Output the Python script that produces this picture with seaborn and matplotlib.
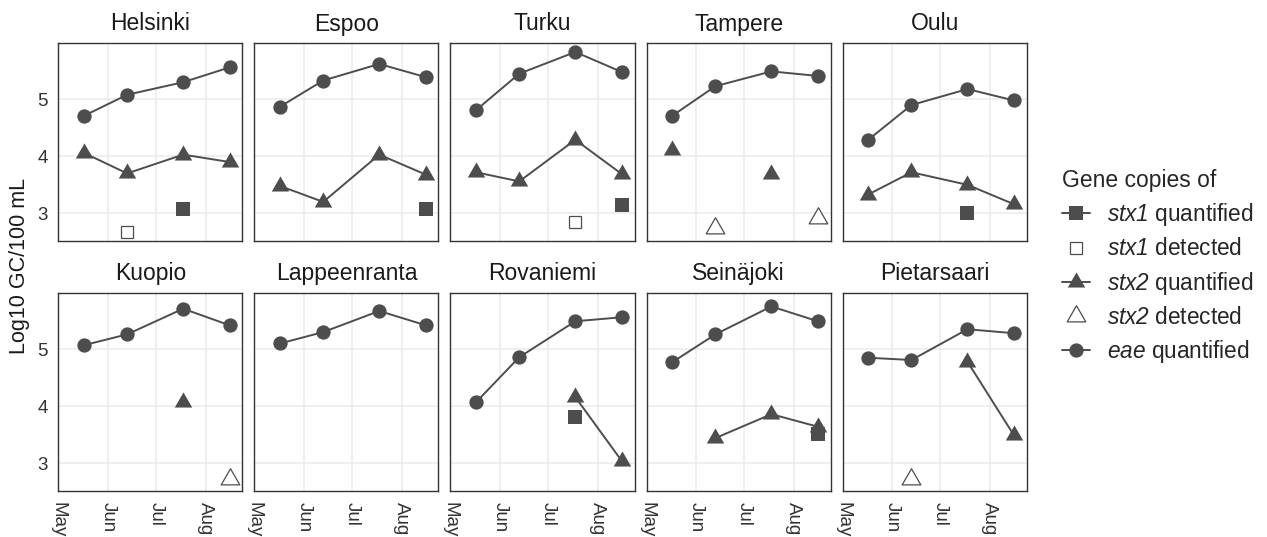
import numpy as np
import pandas as pd
import matplotlib
matplotlib.use("Agg")
import matplotlib.pyplot as plt
import matplotlib.dates as mdates
from matplotlib.lines import Line2D
from matplotlib.path import Path
import seaborn as sns

# --- data (log10 gene copies / 100 mL) ---
nan = np.nan

cities = ["Helsinki", "Espoo", "Turku", "Tampere", "Oulu",
          "Kuopio", "Lappeenranta", "Rovaniemi", "Seinäjoki", "Pietarsaari"]
sample_dates = ["2021-05-17", "2021-06-13", "2021-07-18", "2021-08-16"]

eae_quant = [
    [4.71, 5.08, 5.30, 5.56],
    [4.87, 5.33, 5.62, 5.39],
    [4.81, 5.45, 5.83, 5.48],
    [4.71, 5.23, 5.49, 5.41],
    [4.29, 4.90, 5.18, 4.98],
    [5.07, 5.26, 5.71, 5.42],
    [5.10, 5.30, 5.67, 5.42],
    [4.07, 4.86, 5.49, 5.56],
    [4.77, 5.26, 5.75, 5.49],
    [4.85, 4.81, 5.35, 5.28],
]
stx2_quant = [
    [4.06, 3.70, 4.03, 3.90],
    [3.48, 3.20, 4.03, 3.68],
    [3.72, 3.56, 4.29, 3.69],
    [4.11, nan, 3.69, nan],
    [3.33, 3.72, 3.50, 3.16],
    [nan, nan, 4.08, nan],
    [nan, nan, nan, nan],
    [nan, nan, 4.16, 3.04],
    [nan, 3.44, 3.86, 3.64],
    [nan, nan, 4.78, 3.49],
]
stx1_quant = [
    [nan, nan, 3.07, nan],
    [nan, nan, nan, 3.07],
    [nan, nan, nan, 3.15],
    [nan, nan, nan, nan],
    [nan, nan, 3.01, nan],
    [nan, nan, nan, nan],
    [nan, nan, nan, nan],
    [nan, nan, 3.81, nan],
    [nan, nan, nan, 3.52],
    [nan, nan, nan, nan],
]
stx1_det = [
    [nan, 2.67, nan, nan],
    [nan, nan, nan, nan],
    [nan, nan, 2.84, nan],
    [nan, nan, nan, nan],
    [nan, nan, nan, nan],
    [nan, nan, nan, nan],
    [nan, nan, nan, nan],
    [nan, nan, nan, nan],
    [nan, nan, nan, nan],
    [nan, nan, nan, nan],
]
stx2_det = [
    [nan, nan, nan, nan],
    [nan, nan, nan, nan],
    [nan, nan, nan, nan],
    [nan, 2.75, nan, 2.91],
    [nan, nan, nan, nan],
    [nan, nan, nan, 2.72],
    [nan, nan, nan, nan],
    [nan, nan, nan, nan],
    [nan, nan, nan, nan],
    [nan, 2.72, nan, nan],
]

# gene names go through mathtext, which is set to italic below
legend_labels = [r"$stx1$ quantified", r"$stx1$ detected",
                 r"$stx2$ quantified", r"$stx2$ detected",
                 r"$eae$ quantified"]

# --- long format ---
series = [
    ("stx1", "quantified", stx1_quant),
    ("stx1", "detected", stx1_det),
    ("stx2", "quantified", stx2_quant),
    ("stx2", "detected", stx2_det),
    ("eae", "quantified", eae_quant),
]
rows = []
for gene, status, table in series:
    for city, vals in zip(cities, table):
        for d, v in zip(sample_dates, vals):
            rows.append(dict(city=city, date=pd.Timestamp(d), gene=gene,
                             status=status, value=v))
df = pd.DataFrame(rows)

# --- style ---
sns.set_style("white")
plt.rcParams["font.family"] = ["Liberation Sans", "DejaVu Sans"]
plt.rcParams["mathtext.fontset"] = "custom"
plt.rcParams["mathtext.rm"] = "Liberation Sans:italic"
plt.rcParams["mathtext.it"] = "Liberation Sans:italic"

DARK = "#4d4d4d"
# triangle with its centroid on the data point (like R's pch 17 / 2)
TRI = Path([(0, 1), (-0.866, -0.5), (0.866, -0.5), (0, 1)], closed=True)
styles = {
    ("stx1", "quantified"): dict(marker="s", ms=9.6, mfc=DARK, mec=DARK, mew=0, ls="-"),
    ("stx1", "detected"): dict(marker="s", ms=9.2, mfc="white", mec=DARK, mew=0.9, ls="none"),
    ("stx2", "quantified"): dict(marker=TRI, ms=14.5, mfc=DARK, mec=DARK, mew=0, ls="-"),
    ("stx2", "detected"): dict(marker=TRI, ms=15.5, mfc="white", mec=DARK, mew=0.9, ls="none"),
    ("eae", "quantified"): dict(marker="o", ms=10.3, mfc=DARK, mec=DARK, mew=0, ls="-"),
}


def draw_city(data, **kws):
    ax = plt.gca()
    for (gene, status), st in styles.items():
        sub = data[(data.gene == gene) & (data.status == status)].sort_values("date")
        ax.plot(sub["date"].to_numpy(), sub["value"].to_numpy(),
                color=DARK, lw=1.4, **st)


g = sns.FacetGrid(df, col="city", col_wrap=5, col_order=cities,
                  sharex=True, sharey=True, height=2.5, aspect=1,
                  dropna=False, despine=False)
g.map_dataframe(draw_city)
g.set_titles("{col_name}", size=16.5, pad=9, color="#1a1a1a")
g.set_axis_labels("", "")

vmin, vmax = np.nanmin(df["value"]), np.nanmax(df["value"])
span = vmax - vmin

for ax in g.axes.flat:
    ax.set_ylim(vmin - 0.05 * span, vmax + 0.05 * span)
    ax.set_xlim(pd.Timestamp("2021-05-01"), pd.Timestamp("2021-08-24"))
    ax.set_yticks([3, 4, 5])
    ax.xaxis.set_major_locator(mdates.MonthLocator())
    ax.xaxis.set_major_formatter(mdates.DateFormatter("%b"))
    ax.grid(True, color="#ebebeb", lw=1.1)
    ax.set_axisbelow(True)
    for sp in ax.spines.values():
        sp.set_color("#333333")
        sp.set_linewidth(1.0)
    ax.tick_params(axis="both", length=2.75, width=0.8, color="#333333",
                   labelsize=13.5, labelcolor="#333333")
    ax.tick_params(axis="y", pad=5)
    ax.tick_params(axis="x", pad=5)
    plt.setp(ax.get_xticklabels(), rotation=-90, ha="center", va="top")

fig = g.figure
fig.text(19.5 / 1267, 1 - 266 / 537, "Log10 GC/100 mL", rotation=90,
         ha="center", va="center", fontsize=15.5, color="#1a1a1a")

handles = [Line2D([], [], color=DARK, lw=1.4, **styles[key]) for key in styles]
fig.legend(handles, legend_labels, title="Gene copies of", loc="center left",
           bbox_to_anchor=(1062 / 1267, 1 - 267 / 537), frameon=False, fontsize=16.3,
           title_fontsize=16.5, handlelength=1.25, handletextpad=0.75,
           labelspacing=0.40, borderpad=0, borderaxespad=0, alignment="left")

fig.set_size_inches(12.67, 5.37)
fig.subplots_adjust(left=58.3 / 1267, right=1026.7 / 1267,
                    top=1 - 43 / 537, bottom=1 - 491 / 537,
                    wspace=12 / 184, hspace=51.7 / 198)
fig.savefig("out.png", dpi=100)
